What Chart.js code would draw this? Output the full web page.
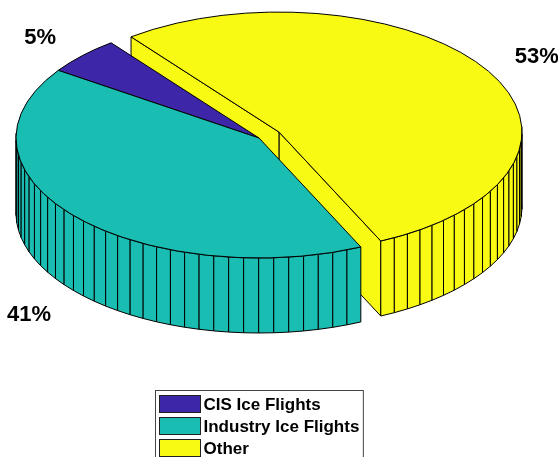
<!DOCTYPE html>
<html>
<head>
<meta charset="utf-8">
<title>Ice flights share</title>
<script src="https://cdn.jsdelivr.net/npm/chart.js@4.4.1/dist/chart.umd.min.js"></script>
<style>
  html, body { margin: 0; padding: 0; background: #fff; }
  #pie { display: block; }
</style>
</head>
<body>
<canvas id="pie" width="558" height="457"></canvas>
<script>
const categories = ["CIS Ice Flights", "Industry Ice Flights", "Other"];
const shares = [5, 41, 53];
const exploded = [0, 0, 1];
const colors = ["#3e26a8", "#1abdb2", "#f9fa14"];

const DEPTH = 75;          // height of the slab in px
const EXPLODE_DIST = 0.096; // how far a pulled-out slice moves (fraction of radius)
const LABEL_DIST = 1.24;   // percent labels sit just outside the rim
const FONT = '"Liberation Sans", Arial, sans-serif';

// geometry of one slice on the tilted ellipse, built from the arc element
function sliceGeom(chart, arc, i) {
  const ca = chart.chartArea;
  const R = arc.outerRadius;
  const sx = (ca.right - ca.left) / 2 / R;
  const sy = -(ca.bottom - ca.top) / 2 / R; // flipped so slices run counter-clockwise
  const mid = (arc.startAngle + arc.endAngle) / 2;
  const ox = exploded[i] * EXPLODE_DIST * R * Math.cos(mid);
  const oy = exploded[i] * EXPLODE_DIST * R * Math.sin(mid);
  const pt = (a, r, z) => [
    arc.x + sx * (ox + r * Math.cos(a)),
    arc.y + sy * (oy + r * Math.sin(a)) + z
  ];
  const front = (a) => sy * Math.sin(a) > 0;
  return { arc, i, R, sx, sy, ox, oy, mid, pt, front };
}

function quad(ctx, pts, fill) {
  ctx.beginPath();
  ctx.moveTo(pts[0][0], pts[0][1]);
  for (let k = 1; k < pts.length; k++) ctx.lineTo(pts[k][0], pts[k][1]);
  ctx.closePath();
  ctx.fillStyle = fill;
  ctx.fill();
  ctx.stroke();
}

const pie3d = {
  id: "pie3d",
  beforeDatasetsDraw(chart) {
    const ctx = chart.ctx;
    const total = shares.reduce((a, b) => a + b, 0);
    const slices = chart.getDatasetMeta(0).data.map((arc, i) => sliceGeom(chart, arc, i));

    ctx.save();
    ctx.lineWidth = 1;
    ctx.strokeStyle = "#000";
    ctx.lineJoin = "round";

    // sides: farthest slice first
    const order = slices.slice().sort((a, b) => a.pt(a.mid, a.R / 2, 0)[1] - b.pt(b.mid, b.R / 2, 0)[1]);
    order.forEach((s) => {
      const { arc, R, pt, sy } = s;
      const fill = colors[s.i];
      const down = Math.sign(sy);
      // radial faces, only the ones turned towards the viewer
      const a0 = arc.startAngle, a1 = arc.endAngle;
      if (-Math.cos(a0) * down > 0) {
        quad(ctx, [pt(a0, 0, 0), pt(a0, R, 0), pt(a0, R, DEPTH), pt(a0, 0, DEPTH)], fill);
      }
      if (Math.cos(a1) * down > 0) {
        quad(ctx, [pt(a1, 0, 0), pt(a1, R, 0), pt(a1, R, DEPTH), pt(a1, 0, DEPTH)], fill);
      }
      // outer wall, split into facets
      const n = Math.ceil(100 * shares[s.i] / total);
      const step = (a1 - a0) / n;
      for (let k = 0; k < n; k++) {
        const b0 = a0 + k * step, b1 = b0 + step;
        if (!s.front(b0) && !s.front(b1)) continue;
        quad(ctx, [pt(b0, R, 0), pt(b1, R, 0), pt(b1, R, DEPTH), pt(b0, R, DEPTH)], fill);
      }
    });

    // top faces drawn by the arc elements, squashed onto the ellipse
    slices.forEach((s) => {
      const { arc, sx, sy, ox, oy } = s;
      ctx.save();
      ctx.translate(arc.x, arc.y);
      ctx.scale(sx, sy);
      ctx.translate(ox - arc.x, oy - arc.y);
      arc.draw(ctx);
      ctx.beginPath();
      ctx.moveTo(arc.x, arc.y);
      ctx.arc(arc.x, arc.y, arc.outerRadius, arc.startAngle, arc.endAngle);
      ctx.closePath();
      ctx.restore();
      ctx.stroke();
    });
    ctx.restore();
    return false;
  },
  afterDraw(chart) {
    const ctx = chart.ctx;
    const slices = chart.getDatasetMeta(0).data.map((arc, i) => sliceGeom(chart, arc, i));
    ctx.save();
    ctx.fillStyle = "#000";
    ctx.font = "bold 22px " + FONT;
    ctx.textAlign = "center";
    ctx.textBaseline = "middle";
    slices.forEach((s) => {
      const p = s.pt(s.mid, LABEL_DIST * s.R, s.front(s.mid) ? DEPTH + 6 : 2);
      ctx.fillText(shares[s.i] + "%", p[0], p[1]);
    });

    // legend box under the pie
    ctx.font = "bold 17px " + FONT;
    const textW = Math.max(...categories.map((c) => ctx.measureText(c).width));
    const sw = 41, sh = 17, row = 22;
    const w = 4 + sw + 3 + textW + 4;
    const left = Math.round(slices[0].arc.x - w / 2) + 0.5;
    const top = chart.height - 67 + 0.5;
    ctx.lineWidth = 1;
    ctx.strokeStyle = "#444";
    ctx.strokeRect(left, top, w, row * 3 + 6);
    ctx.textAlign = "left";
    categories.forEach((c, i) => {
      const y = top + 5 + i * row;
      ctx.fillStyle = colors[i];
      ctx.fillRect(left + 4, y, sw, sh);
      ctx.strokeStyle = "#222";
      ctx.strokeRect(left + 4, y, sw, sh);
      ctx.fillStyle = "#000";
      ctx.fillText(c, left + 4 + sw + 3, y + sh / 2 + 1);
    });
    ctx.restore();
  }
};

new Chart(document.getElementById("pie"), {
  type: "pie",
  data: {
    labels: categories,
    datasets: [{
      data: shares,
      backgroundColor: colors,
      borderWidth: 0
    }]
  },
  options: {
    responsive: false,
    devicePixelRatio: 1,
    animation: false,
    rotation: 217.5,
    layout: { padding: { left: 16, right: 56, top: 18, bottom: 199 } },
    plugins: {
      legend: { display: false },
      tooltip: { enabled: false }
    }
  },
  plugins: [pie3d]
});
</script>
</body>
</html>
